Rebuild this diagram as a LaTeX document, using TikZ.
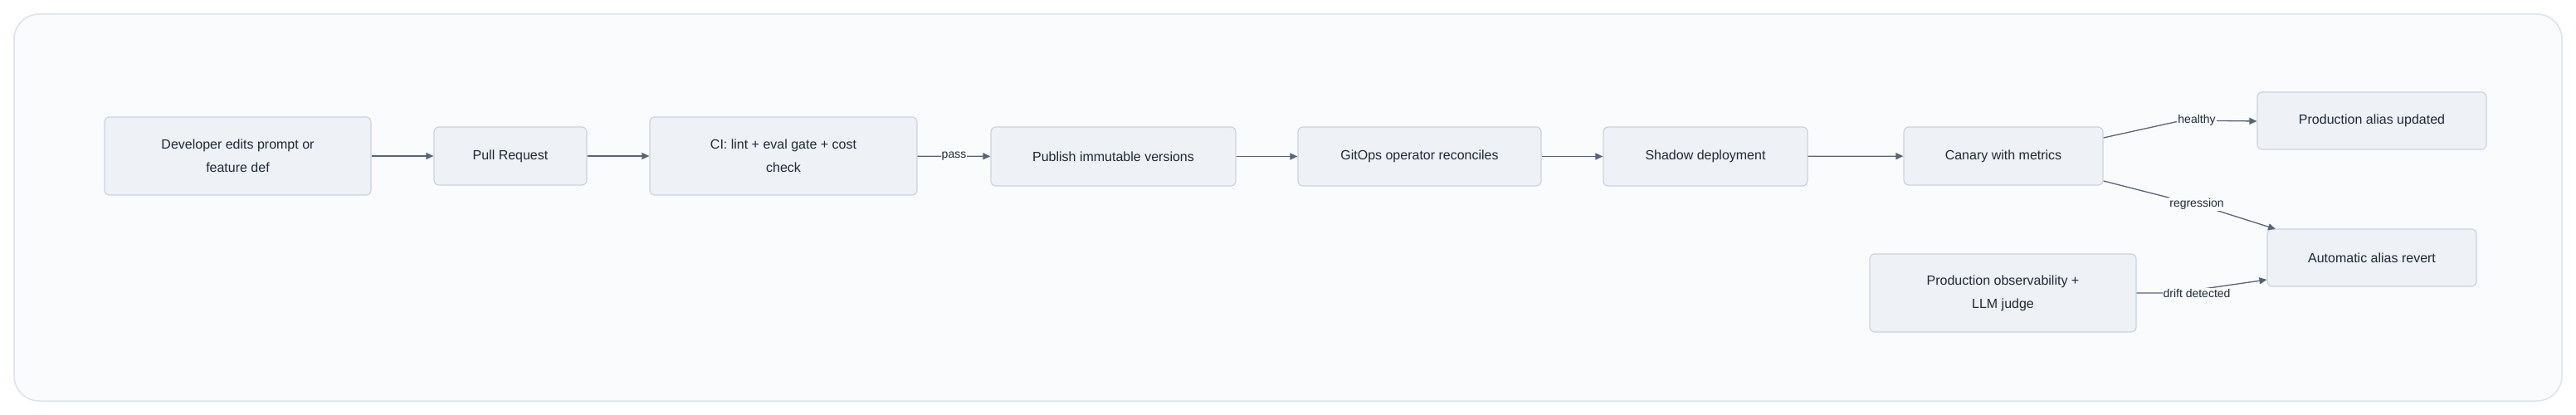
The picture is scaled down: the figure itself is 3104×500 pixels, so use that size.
\documentclass[tikz,border=0pt]{standalone}
\usepackage{fontspec}
\setmainfont{Liberation Sans}
\usetikzlibrary{arrows.meta}
\definecolor{nfill}{HTML}{EEF1F6}
\definecolor{nborder}{HTML}{CBD3E0}
\definecolor{edge}{HTML}{5A6478}
\definecolor{txt}{HTML}{1F2937}
\definecolor{frame}{HTML}{DCE3EE}
\definecolor{framefill}{HTML}{FAFBFC}
\tikzset{
  box/.style={draw=nborder, line width=1.2pt, fill=nfill, rounded corners=6pt, align=center, text=txt, font=\fontsize{16}{28}\selectfont, inner sep=0pt},
  conn/.style={draw=edge, line width=1.3pt, -{Triangle[length=9pt,width=8pt]}},
  lbl/.style={fill=framefill, text=txt, font=\fontsize{14}{16}\selectfont, inner sep=1pt}
}
\begin{document}
\begin{tikzpicture}[x=1pt,y=-1pt]
\useasboundingbox (0,0) rectangle (3104,500);
\fill[white] (0,0) rectangle (3104,500);
\draw[frame, fill=framefill, line width=1.5pt, rounded corners=30pt] (17,17) rectangle (3087,483);
\newcommand{\bx}[6]{\node[box, minimum width=#4pt-#2pt, minimum height=#5pt-#3pt] (#1) at ({(#2+#4)/2},{(#3+#5)/2}) {#6};}
\bx{dev}{126}{141}{447}{235}{Developer edits prompt or\\feature def}
\bx{pr}{523}{153}{707}{223}{Pull Request}
\bx{ci}{783}{141}{1105}{235}{CI: lint + eval gate + cost\\check}
\bx{pub}{1194}{153}{1489}{224}{Publish immutable versions}
\bx{git}{1564}{153}{1857}{224}{GitOps operator reconciles}
\bx{sh}{1932}{153}{2178}{224}{Shadow deployment}
\bx{can}{2294}{153}{2534}{223}{Canary with metrics}
\bx{upd}{2720}{111}{2996}{180}{Production alias updated}
\bx{rev}{2732}{276}{2984}{345}{Automatic alias revert}
\bx{obs}{2253}{306}{2574}{400}{Production observability +\\LLM judge}
\draw[conn] (dev) -- (pr);
\draw[conn] (pr) -- (ci);
\draw[conn] (ci) -- node[lbl]{pass} (pub);
\draw[conn] (pub) -- (git);
\draw[conn] (git) -- (sh);
\draw[conn] (sh) -- (can);
\coordinate (hk) at (2630,145);
\coordinate (rk) at (2660,250);
\coordinate (dk) at (2620,353);
\draw[conn] (can.east |- 0,166) -- (hk) -- (upd.west |- 0,146);
\node[lbl] at (2647,145) {healthy};
\draw[conn] (can.east |- 0,218) -- (rk) -- (2742,276);
\node[lbl] at (2647,246) {regression};
\draw[conn] (obs.east |- 0,353) -- (dk) -- (rev.west |- 0,337);
\node[lbl] at (2647,353) {drift detected};
\end{tikzpicture}
\end{document}
